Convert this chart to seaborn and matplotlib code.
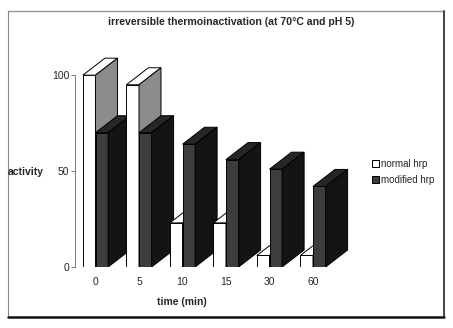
import matplotlib
matplotlib.use("Agg")
import matplotlib.pyplot as plt
from matplotlib.patches import Polygon, Rectangle
from matplotlib.lines import Line2D
import seaborn as sns
import pandas as pd

# data
times = ['0', '5', '10', '15', '30', '60']
normal_hrp = [100, 95, 23, 23, 6, 6]
modified_hrp = [70, 70, 64, 56, 51, 42]
series = ['normal hrp', 'modified hrp']

df = pd.DataFrame({
    'time': times * 2,
    'activity': normal_hrp + modified_hrp,
    'hrp': [series[0]] * len(times) + [series[1]] * len(times),
})

sns.set_style('white')
plt.rcParams['font.family'] = ['Liberation Sans', 'DejaVu Sans']

W, H = 453, 328
fig = plt.figure(figsize=(W / 100, H / 100), dpi=100)

# axes placed in pixel terms
x0, x1 = 75, 355
y_bot, y_top = 267, 56
ax = fig.add_axes([x0 / W, 1 - y_bot / H, (x1 - x0) / W, (y_bot - y_top) / H])

front = {series[0]: 'white', series[1]: '#3d3d3d'}
top = {series[0]: 'white', series[1]: '#262626'}
side = {series[0]: '#8c8c8c', series[1]: '#141414'}

sns.barplot(data=df, x='time', y='activity', hue='hrp', palette=front,
            width=0.58, edgecolor='black', linewidth=0.7, ax=ax, legend=False)

unit = 43.5  # px per category
xmin = -20.5 / unit
ax.set_xlim(xmin, xmin + (x1 - x0) / unit)
ax.set_ylim(0, 110)

# oblique depth of the fake 3d bars
dx = 22 / unit
dy = 17 * 110 / (y_bot - y_top)

bars = sorted(ax.patches, key=lambda p: p.get_x())
for i, p in enumerate(bars):
    x, w, h = p.get_x(), p.get_width(), p.get_height()
    s = series[0] if p.get_facecolor()[0] > 0.9 else series[1]
    z = 2 + i
    p.set_zorder(z)
    ax.add_patch(Polygon([(x, h), (x + w, h), (x + w + dx, h + dy), (x + dx, h + dy)],
                         closed=True, fc=top[s], ec='black', lw=0.7, zorder=z))
    ax.add_patch(Polygon([(x + w, 0), (x + w + dx, dy), (x + w + dx, h + dy), (x + w, h)],
                         closed=True, fc=side[s], ec='black', lw=0.7, zorder=z))

ax.set_yticks([0, 50, 100])
ax.tick_params(axis='y', left=True, length=3, width=0.6, color='#666', labelsize=7.5, pad=1)
ax.tick_params(axis='x', bottom=False, labelsize=7.5, pad=4)
for sp in ['top', 'right', 'bottom']:
    ax.spines[sp].set_visible(False)
ax.spines['left'].set_bounds(0, 100)
ax.spines['left'].set_color('#777')
ax.spines['left'].set_linewidth(0.7)
ax.set_xlabel('')
ax.set_ylabel('')

fig.text(26 / W, 1 - 172 / H, 'activity', ha='center', va='center',
         fontsize=7.5, fontweight='bold')
fig.text(182 / W, 1 - 302 / H, 'time (min)', ha='center', va='center',
         fontsize=7.5, fontweight='bold')
fig.text(231 / W, 1 - 22 / H, 'irreversible thermoinactivation (at 70°C and pH 5)',
         ha='center', va='center', fontsize=7.6, fontweight='bold')

handles = [Rectangle((0, 0), 1, 1, fc=front[s], ec='black', lw=0.7) for s in series]
fig.legend(handles=handles, labels=series, loc='upper left',
           bbox_to_anchor=(363 / W, 1 - 150 / H), frameon=False, fontsize=7,
           handlelength=0.7, handleheight=0.7, handletextpad=0.3, labelspacing=0.6)

# frame around the whole picture
fig.add_artist(Line2D([8 / W, 444 / W], [1 - 11 / H, 1 - 11 / H], color='#999', lw=1))
fig.add_artist(Line2D([8 / W, 8 / W], [1 - 11 / H, 1 - 317 / H], color='#888', lw=0.8))
fig.add_artist(Line2D([444 / W, 444 / W], [1 - 11 / H, 1 - 317 / H], color='#222', lw=1.2))
fig.add_artist(Line2D([8 / W, 444 / W], [1 - 317 / H, 1 - 317 / H], color='#111', lw=1.8))

fig.savefig('out.png', dpi=100)
